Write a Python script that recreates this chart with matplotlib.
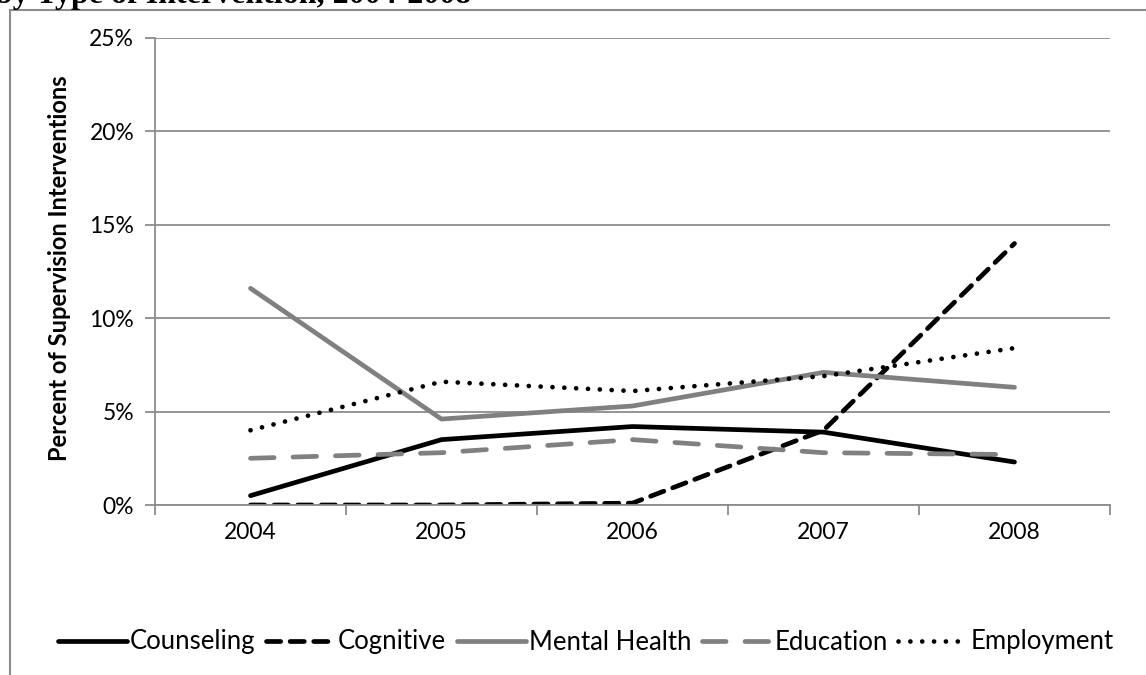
import matplotlib
matplotlib.use("Agg")
import matplotlib.pyplot as plt
from matplotlib.lines import Line2D
from matplotlib.ticker import FuncFormatter, FixedLocator

plt.rcParams['font.family'] = ['Lato', 'DejaVu Sans']

years = ["2004", "2005", "2006", "2007", "2008"]
counseling = [0.5, 3.5, 4.2, 3.9, 2.3]
cognitive = [0.0, 0.0, 0.1, 4.0, 14.0]
mental_health = [11.6, 4.6, 5.3, 7.1, 6.3]
education = [2.5, 2.8, 3.5, 2.8, 2.7]
employment = [4.0, 6.6, 6.1, 6.9, 8.4]
y_ticks = [0, 5, 10, 15, 20, 25]

GRAY = "#808080"
AXGRAY = "#8c8c8c"

fig = plt.figure(figsize=(11.46, 6.75), dpi=100)
ax = fig.add_axes([155 / 1146, 1 - 505 / 675, (1110 - 155) / 1146, (505 - 38) / 675])

x = range(len(years))
lw = 3.4
ax.plot(x, counseling, color="black", lw=lw, label="Counseling", solid_capstyle="round")
ax.plot(x, cognitive, color="black", lw=lw, linestyle=(0, (3.0, 2.0)),
        dash_capstyle="round", label="Cognitive")
ax.plot(x, mental_health, color=GRAY, lw=lw, label="Mental Health", solid_capstyle="round")
ax.plot(x, education, color=GRAY, lw=lw, linestyle=(0, (5.0, 4.0)),
        dash_capstyle="round", label="Education")
ax.plot(x, employment, color="black", lw=lw, linestyle=(0, (0.01, 2.5)),
        dash_capstyle="round", label="Employment")

ax.set_xlim(-0.5, len(years) - 0.5)
ax.set_ylim(0, 25)
ax.set_yticks(y_ticks)
ax.yaxis.set_major_formatter(FuncFormatter(lambda v, p: f"{v:.0f}%"))
ax.set_xticks(list(x))
ax.set_xticklabels(years)
ax.xaxis.set_minor_locator(FixedLocator([i - 0.5 for i in range(len(years) + 1)]))
ax.tick_params(axis="x", which="major", length=0, labelsize=16.5, pad=12)
ax.tick_params(axis="x", which="minor", length=7, width=1.3, color=AXGRAY, direction="out")
ax.tick_params(axis="y", length=7, width=1.3, color=AXGRAY, labelsize=16.5, pad=8)
ax.grid(axis="y", color=AXGRAY, lw=1.3)
ax.set_axisbelow(True)
for s in ["top", "right"]:
    ax.spines[s].set_visible(False)
for s in ["left", "bottom"]:
    ax.spines[s].set_color(AXGRAY)
    ax.spines[s].set_linewidth(1.3)

fig.text(60 / 1146, 1 - 268 / 675, "Percent of Supervision Interventions",
         rotation=90, ha="center", va="center", fontsize=17, fontweight="bold")

leg = fig.legend(loc="center", bbox_to_anchor=(0.511, 1 - 642 / 675), ncol=5,
                 frameon=False, fontsize=18.5, handlelength=2.7, handletextpad=0.1,
                 columnspacing=0.42)

# outer chart frame (cut off at top/right like the reference)
fig.add_artist(Line2D([9.5 / 1146, 9.5 / 1146], [0, 1 - 9.5 / 675],
                      transform=fig.transFigure, color=AXGRAY, lw=1.5))
fig.add_artist(Line2D([9.5 / 1146, 1], [1 - 9.5 / 675, 1 - 9.5 / 675],
                      transform=fig.transFigure, color=AXGRAY, lw=1.5))

# title, cut off at the top edge as in the reference
fig.text(-0.004, 1 - 3 / 675, "by Type of Intervention, 2004-2008", family="Liberation Serif",
         fontsize=23, fontweight="bold", ha="left", va="baseline")

fig.savefig("out.png", dpi=100)
